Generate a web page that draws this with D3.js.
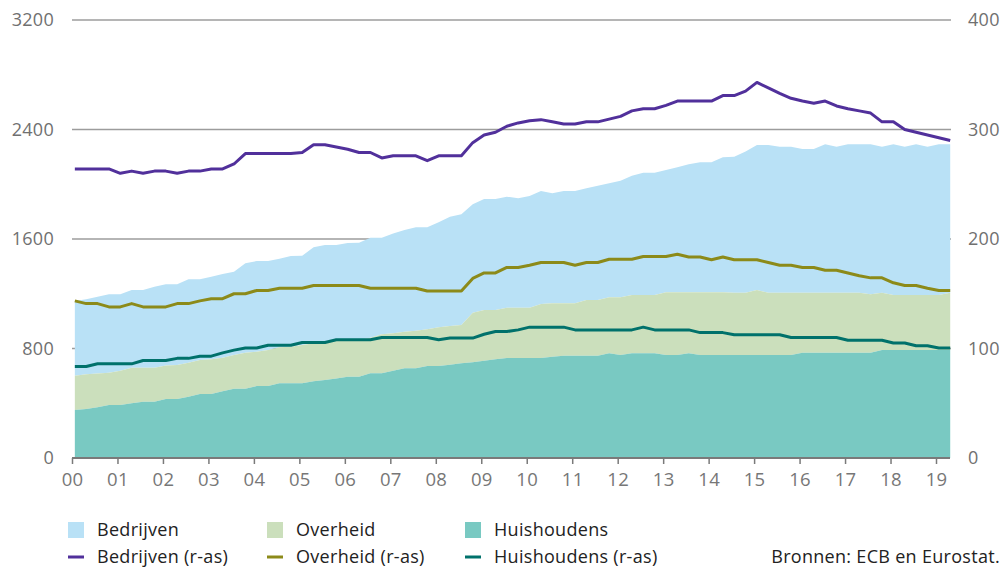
<!DOCTYPE html>
<html>
<head>
<meta charset="utf-8">
<script src="https://cdn.jsdelivr.net/npm/d3@7"></script>
<style>
  body { margin: 0; background: #fff; }
  text { font-family: "Open Sans", "Noto Sans", sans-serif; letter-spacing: 0.3px; }
</style>
</head>
<body>
<div id="chart"></div>
<script>
// quarterly, 2000Q1 .. 2019Q2 ; areas are stacked levels (left axis), lines stacked in % (right axis)
var startYear = 2000;
var yearLabels = ["00","01","02","03","04","05","06","07","08","09","10","11","12","13","14","15","16","17","18","19"];
var leftTicks = [0, 800, 1600, 2400, 3200];
var rightTicks = [0, 100, 200, 300, 400];

var huishoudensArea = [351,358,370,387,387,400,411,411,431,431,448,468,468,487,506,506,526,526,546,546,
  546,560,570,580,594,594,619,619,638,655,655,672,672,682,692,700,711,721,730,730,
  730,730,740,747,747,747,747,765,753,765,765,765,753,753,765,753,753,753,753,753,
  753,753,753,753,769,769,769,769,769,769,769,789,789,789,789,789,789,789];

var overheidArea = [601,612,618,623,638,660,660,660,675,679,696,716,721,733,753,769,777,789,809,813,
  825,838,838,860,862,862,879,905,911,923,930,940,955,965,972,1062,1081,1081,1098,1098,
  1098,1125,1130,1130,1130,1154,1154,1174,1174,1191,1191,1191,1211,1211,1211,1211,1211,1211,1208,1208,
  1227,1208,1208,1208,1208,1208,1208,1208,1208,1208,1196,1208,1191,1191,1191,1191,1191,1208];

var bedrijvenArea = [1147,1160,1178,1196,1196,1227,1227,1252,1269,1269,1306,1306,1325,1344,1361,1422,1439,1439,1456,1476,
  1478,1540,1556,1556,1570,1573,1610,1610,1640,1666,1686,1686,1722,1763,1780,1854,1892,1892,1909,1897,
  1914,1951,1934,1951,1951,1970,1989,2007,2026,2062,2084,2084,2104,2124,2146,2160,2160,2197,2201,2240,
  2287,2287,2274,2274,2258,2258,2292,2274,2292,2292,2292,2274,2292,2274,2292,2274,2292,2292];

var huishoudensLine = [83.5,83.5,86,86,86,86,89,89,89,91,91,93,93,96,98.5,100.5,100.5,103,103,103,
  105.5,105.5,105.5,108,108,108,108,110,110,110,110,110,108,109.5,109.5,109.5,113,115.5,115.5,117,
  119.5,119.5,119.5,119.5,117,117,117,117,117,117,119.5,117,117,117,117,114.5,114.5,114.5,112.5,112.5,
  112.5,112.5,112.5,110,110,110,110,110,107.5,107.5,107.5,107.5,105,105,102.5,102.5,100.5,100.5];

var overheidLine = [143.5,141,141,138,138,141,138,138,138,141,141,143.5,145.5,145.5,150,150,153,153,155,155,
  155,157.5,157.5,157.5,157.5,157.5,155,155,155,155,155,152.5,152.5,152.5,152.5,164,169,169,174,174,
  176,178.5,178.5,178.5,176,178.5,178.5,181.5,181.5,181.5,184,184,184,186,183.5,183.5,181,183.5,181,181,
  181,178.5,176,176,174,174,171.5,171.5,169,166.5,164.5,164.5,160,157.5,157.5,155,153,153];

var bedrijvenLine = [264,264,264,264,260,262,260,262,262,260,262,262,264,264,268.5,278,278,278,278,278,
  279,286,286,284,282,279,279,274,276,276,276,271.5,276,276,276,288,295,297.5,303,306,
  308,309,307,305,305,307,307,309.5,312,317,319,319,322,326,326,326,326,331,331,335,
  343,338,333,328.5,326,324,326,321.5,319,317,315,307,307,300,297.5,295,292.5,290];

var areaSeries = [
  {name: "Bedrijven", values: bedrijvenArea, base: overheidArea, color: "#b9e1f6"},
  {name: "Overheid", values: overheidArea, base: huishoudensArea, color: "#cbdfbc"},
  {name: "Huishoudens", values: huishoudensArea, base: null, color: "#79c9c2"}
];
var lineSeries = [
  {name: "Bedrijven (r-as)", values: bedrijvenLine, color: "#51309b"},
  {name: "Overheid (r-as)", values: overheidLine, color: "#8c8a19"},
  {name: "Huishoudens (r-as)", values: huishoudensLine, color: "#00716b"}
];

var width = 1008, height = 570;
var plot = {left: 72, right: 951, top: 20, bottom: 458};

var svg = d3.select("#chart").append("svg")
    .attr("width", width)
    .attr("height", height);

// x: fractional year, points sit a bit into each quarter
var x = d3.scaleLinear().domain([2000, 2019]).range([72, 936]);
var tOf = function(i) { return startYear + (i + 0.25) / 4; };

var yL = d3.scaleLinear().domain([0, 3200]).range([plot.bottom, plot.top]);
var yR = d3.scaleLinear().domain([0, 400]).range([plot.bottom, plot.top]);

//gridlines behind everything
svg.append("g").selectAll("line")
    .data(leftTicks.slice(1)).enter()
    .append("line")
    .attr("x1", plot.left).attr("x2", plot.right)
    .attr("y1", function(d) { return yL(d); })
    .attr("y2", function(d) { return yL(d); })
    .attr("stroke", "#9c9c9c")
    .attr("stroke-width", 1.5);

//areas
var idx = d3.range(bedrijvenArea.length);
areaSeries.forEach(function(s) {
    var area = d3.area()
        .x(function(i) { return x(tOf(i)); })
        .y0(function(i) { return s.base ? yL(s.base[i]) : yL(0); })
        .y1(function(i) { return yL(s.values[i]); });
    svg.append("path")
        .datum(idx)
        .attr("d", area)
        .attr("fill", s.color);
});

//lines on right axis
lineSeries.forEach(function(s) {
    var line = d3.line()
        .x(function(i) { return x(tOf(i)); })
        .y(function(i) { return yR(s.values[i]); });
    svg.append("path")
        .datum(idx)
        .attr("d", line)
        .attr("fill", "none")
        .attr("stroke", s.color)
        .attr("stroke-width", 3)
        .attr("stroke-linejoin", "round");
});

//left axis labels
svg.append("g").selectAll("text")
    .data(leftTicks).enter()
    .append("text")
    .attr("x", 54)
    .attr("y", function(d) { return yL(d); })
    .attr("dy", "0.35em")
    .attr("text-anchor", "end")
    .attr("font-size", 18)
    .attr("fill", "#707070")
    .text(function(d) { return d; });

//right axis labels
svg.append("g").selectAll("text")
    .data(rightTicks).enter()
    .append("text")
    .attr("x", 968)
    .attr("y", function(d) { return yR(d); })
    .attr("dy", "0.35em")
    .attr("font-size", 18)
    .attr("fill", "#707070")
    .text(function(d) { return d; });

//x axis
var xAxis = d3.axisBottom(x)
    .tickValues(d3.range(2000, 2020))
    .tickFormat(function(d, i) { return yearLabels[i]; })
    .tickSize(6)
    .tickSizeOuter(0);
var gx = svg.append("g")
    .attr("transform", "translate(0," + plot.bottom + ")")
    .call(xAxis);
gx.select(".domain").remove();
gx.append("line")
    .attr("x1", plot.left).attr("x2", 950)
    .attr("stroke", "#7a7a7a").attr("stroke-width", 2);
gx.selectAll(".tick line").attr("stroke", "#7a7a7a").attr("stroke-width", 1.5);
gx.selectAll(".tick text")
    .attr("font-family", "'Open Sans', 'Noto Sans', sans-serif")
    .attr("font-size", 18.5)
    .attr("fill", "#777")
    .attr("y", 15);

//legend
var cols = [68, 267, 465];
var leg = svg.append("g");
areaSeries.forEach(function(s, i) {
    leg.append("rect")
        .attr("x", cols[i]).attr("y", 522)
        .attr("width", 16).attr("height", 16)
        .attr("fill", s.color);
    leg.append("text")
        .attr("x", cols[i] + 29).attr("y", 530)
        .attr("dy", "0.35em")
        .attr("font-size", 18)
        .attr("fill", "#222")
        .text(s.name);
});
lineSeries.forEach(function(s, i) {
    leg.append("line")
        .attr("x1", cols[i]).attr("x2", cols[i] + 16)
        .attr("y1", 557).attr("y2", 557)
        .attr("stroke", s.color)
        .attr("stroke-width", 3);
    leg.append("text")
        .attr("x", cols[i] + 29).attr("y", 557)
        .attr("dy", "0.35em")
        .attr("font-size", 18)
        .attr("fill", "#222")
        .text(s.name);
});

svg.append("text")
    .attr("x", 1000).attr("y", 557)
    .attr("dy", "0.35em")
    .attr("text-anchor", "end")
    .attr("font-size", 18)
    .attr("fill", "#222")
    .text("Bronnen: ECB en Eurostat.");
</script>
</body>
</html>
